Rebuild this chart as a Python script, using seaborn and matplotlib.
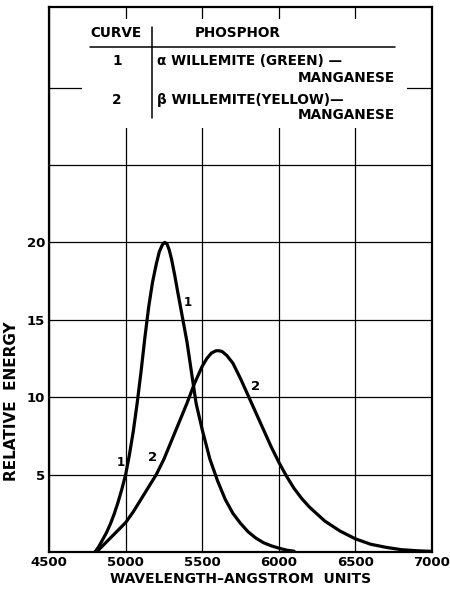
import pandas as pd
import seaborn as sns
import matplotlib.pyplot as plt
from matplotlib.patches import Rectangle

# curve 1: alpha willemite (green) - manganese
wl_1 = [4800, 4825, 4850, 4875, 4900, 4925, 4950, 4975, 5000, 5025, 5050, 5075,
        5100, 5125, 5150, 5175, 5200, 5220, 5240, 5255, 5270, 5285, 5300, 5320,
        5340, 5370, 5400, 5430, 5460, 5500, 5550, 5600, 5650, 5700, 5750, 5800,
        5850, 5900, 5950, 6000, 6050, 6100]
en_1 = [0.0, 0.35, 0.8, 1.25, 1.8, 2.45, 3.2, 4.05, 5.0, 6.3, 7.8, 9.6,
        11.6, 13.8, 15.8, 17.4, 18.6, 19.4, 19.85, 20.0, 19.9, 19.5, 18.9, 17.9,
        16.8, 15.2, 13.6, 11.6, 9.6, 7.9, 6.0, 4.6, 3.4, 2.5, 1.85, 1.3,
        0.9, 0.6, 0.4, 0.25, 0.12, 0.05]

# curve 2: beta willemite (yellow) - manganese
wl_2 = [4810, 4850, 4900, 4950, 5000, 5050, 5100, 5150, 5200, 5250, 5300, 5350,
        5400, 5450, 5500, 5530, 5560, 5590, 5610, 5630, 5660, 5700, 5750, 5800,
        5850, 5900, 5950, 6000, 6050, 6100, 6150, 6200, 6300, 6400, 6500, 6600,
        6700, 6800, 6900, 7000]
en_2 = [0.0, 0.4, 0.9, 1.4, 1.9, 2.6, 3.4, 4.2, 5.0, 6.0, 7.2, 8.4,
        9.6, 10.9, 12.0, 12.5, 12.85, 13.0, 13.0, 12.95, 12.7, 12.2, 11.2, 10.1,
        9.0, 7.9, 6.8, 5.8, 4.9, 4.1, 3.45, 2.9, 2.0, 1.35, 0.85, 0.5,
        0.3, 0.15, 0.08, 0.04]

x_ticks = [4500, 5000, 5500, 6000, 6500, 7000]
y_grid = [5, 10, 15, 20, 25, 30]
y_labels = ["5", "10", "15", "20", "", ""]

df = pd.concat([
    pd.DataFrame({"wavelength": wl_1, "energy": en_1, "curve": "1"}),
    pd.DataFrame({"wavelength": wl_2, "energy": en_2, "curve": "2"}),
])

sns.set_style("white")
plt.rcParams["font.family"] = ["DejaVu Sans"]
plt.rcParams["font.weight"] = "bold"
plt.rcParams["text.color"] = "black"
plt.rcParams["axes.labelcolor"] = "black"
plt.rcParams["axes.labelweight"] = "bold"
plt.rcParams["xtick.color"] = "black"
plt.rcParams["ytick.color"] = "black"

fig = plt.figure(figsize=(4.5, 5.91), dpi=100)
ax = fig.add_axes([0.109, 0.066, 0.851, 0.922])

sns.lineplot(data=df, x="wavelength", y="energy", hue="curve",
             palette=["black", "black"], linewidth=2.3, legend=False,
             sort=False, ax=ax)
for ln in ax.lines:
    ln.set_solid_joinstyle("round")

ax.set_xlim(4500, 7000)
ax.set_ylim(0, 35.2)
ax.set_xticks(x_ticks)
ax.set_xticklabels([str(t) for t in x_ticks], fontsize=9.5)
ax.set_yticks(y_grid)
ax.set_yticklabels(y_labels, fontsize=9.5)
ax.tick_params(length=0, pad=3)
ax.grid(True, color="black", linewidth=0.9)
ax.set_axisbelow(True)
for s in ax.spines.values():
    s.set_color("black")
    s.set_linewidth(1.6)

ax.set_xlabel("WAVELENGTH\u2013ANGSTROM  UNITS", fontsize=10, labelpad=2)
ax.set_ylabel("RELATIVE  ENERGY", fontsize=11, labelpad=4)
ax.yaxis.set_label_coords(-0.078, 0.277)

# curve labels
ax.text(5407, 16.1, "1", fontsize=8.5, ha="center", va="center")
ax.text(4970, 5.8, "1", fontsize=8.5, ha="center", va="center")
ax.text(5851, 10.7, "2", fontsize=9.5, ha="center", va="center")
ax.text(5179, 6.1, "2", fontsize=9.5, ha="center", va="center")

# key table in the top of the grid
ax.add_patch(Rectangle((4715, 27.4), 2122, 7.0, facecolor="white",
                       edgecolor="none", zorder=1))
fs = 9.8
ax.text(4937, 33.55, "CURVE", fontsize=fs, ha="center", va="center")
ax.text(5734, 33.55, "PHOSPHOR", fontsize=fs, ha="center", va="center")
ax.plot([4768, 6758], [32.6, 32.6], color="black", linewidth=1.1)
ax.plot([5172, 5172], [33.9, 28.05], color="black", linewidth=1.1)
ax.text(4944, 31.7, "1", fontsize=fs, ha="center", va="center")
ax.text(5205, 31.7, "\u03b1 WILLEMITE (GREEN) \u2014", fontsize=fs, ha="left", va="center")
ax.text(6758, 30.6, "MANGANESE", fontsize=fs, ha="right", va="center")
ax.text(4944, 29.2, "2", fontsize=fs, ha="center", va="center")
ax.text(5205, 29.2, "\u03b2 WILLEMITE(YELLOW)\u2014", fontsize=fs, ha="left", va="center")
ax.text(6758, 28.2, "MANGANESE", fontsize=fs, ha="right", va="center")

fig.savefig("out.png", dpi=100, facecolor="white")
